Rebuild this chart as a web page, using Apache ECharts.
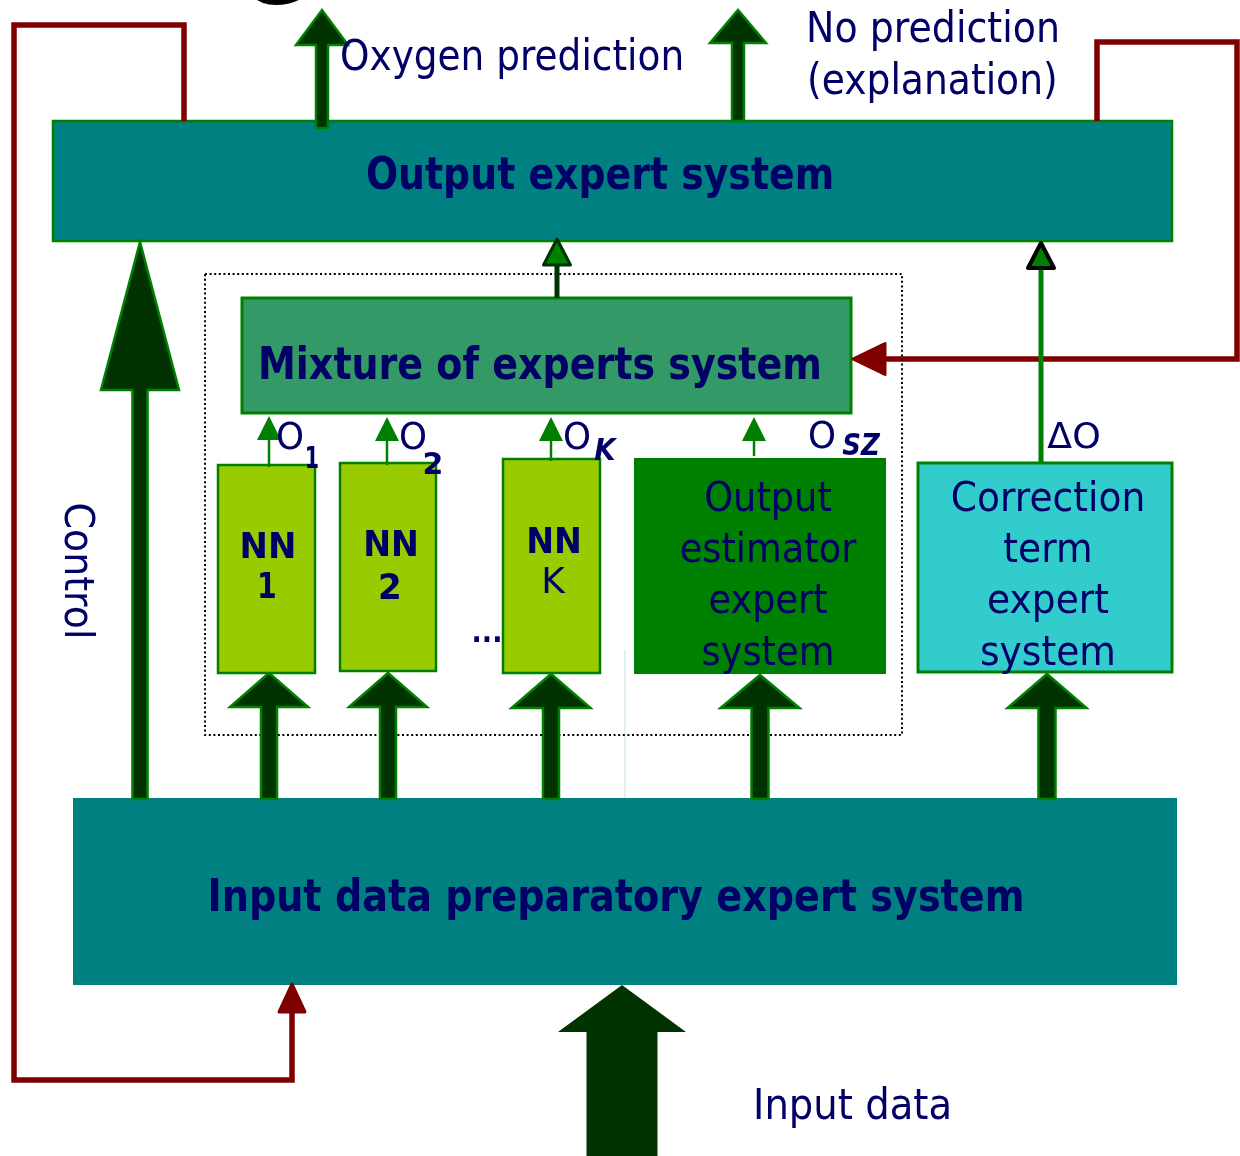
<!DOCTYPE html>
<html>
<head>
<meta charset="utf-8">
<script src="https://cdn.jsdelivr.net/npm/echarts@6/dist/echarts.min.js"></script>
<style>
html,body{margin:0;padding:0;background:#ffffff;}
#chart{width:1240px;height:1156px;}
</style>
</head>
<body>
<div id="chart"></div>
<script>
// ---------- Diagram data (diagram units: x 0..1240, y 0..1156 top-down) ----------
const boxNames   = ['Output expert system','Mixture of experts system','NN 1','NN 2','NN K',
                    'Output estimator expert system','Correction term expert system',
                    'Input data preparatory expert system'];
const boxLeft    = [53, 242, 218, 340, 503, 634, 918, 73];
const boxTop     = [121, 298, 465, 463, 459, 458, 463, 798];
const boxRight   = [1172, 851, 315, 436, 600, 886, 1172, 1177];
const boxBottom  = [241, 413, 673, 671, 673, 674, 672, 985];

const frameLeft = [205], frameTop = [274], frameRight = [902], frameBottom = [735];

const blockArrowNames = ['Oxygen prediction','No prediction','Control','to NN 1','to NN 2','to NN K',
                         'to Output estimator','to Correction term','Input data'];
const blockArrowX    = [322, 738, 140, 269, 388, 551, 760, 1047, 622];
const blockArrowFrom = [128, 121, 799, 799, 799, 799, 799, 799, 1156];
const blockArrowTo   = [10, 10, 242, 673, 673, 674, 675, 674, 985];

const thinArrowNames = ['O1','O2','OK','OSZ','Mixture to Output','Delta O'];
const thinArrowX     = [269, 387, 551, 754, 557, 1041];
const thinArrowFrom  = [467, 465, 461, 456, 298, 463];
const thinArrowTo    = [416, 417, 417, 417, 239, 243];

const feedbackNames = ['Control loop','Explanation loop'];
const feedbackLeftPath  = [[184,121],[184,25],[14,25],[14,1080],[292,1080],[292,984]];
const feedbackRightPath = [[1097,121],[1097,42],[1237,42],[1237,359],[853,359]];
const feedbackPaths = [feedbackLeftPath, feedbackRightPath];

const faintLineX = [625], faintLineFrom = [650], faintLineTo = [798];

const labelTexts = ['Oxygen prediction','No prediction','(explanation)','Output expert system',
  'Mixture of experts system','NN','1','NN','2','NN','K',
  'Output\nestimator\nexpert\nsystem','Correction\nterm\nexpert\nsystem',
  'Input data preparatory expert system','Input data','Control',
  'O','1','O','2','O','K','O','SZ','\u0394O','...','G'];
const labelX = [340, 806, 807, 600, 258, 268, 267, 391, 390, 554, 553, 768, 1048, 616, 753, 76,
                290, 312, 413, 433, 577, 605, 822, 861, 1074, 487, 273];
const labelY = [59, 31, 83, 178, 368, 549, 589, 547, 590, 544, 584, 577, 577, 900, 1108, 571,
                439, 460, 439, 466, 439, 452, 438, 447, 439, 634, -17];

// ---------- Styles ----------
const NAVY = '#000066';
const boxFill   = ['#008080','#339966','#99CC00','#99CC00','#99CC00','#008000','#33CCCC','#008080'];
const boxStroke = ['#008000','#008000','#008000','#008000','#008000','#008000','#008000','#008080'];
const boxLineW  = [2.5, 3, 2.5, 2.5, 2.5, 0, 3, 0];

const blockShaft  = [12, 12, 15, 16, 16, 16, 17, 17, 71];
const blockHeadW  = [52, 56, 78, 78, 78, 79, 79, 79, 128];
const blockHeadL  = [35, 33, 148, 34, 34, 34, 33, 34, 47];
const blockStroke = ['#008000','#008000','#008000','#008000','#008000','#008000','#008000','#008000', null];

const thinLineW      = [2.5, 2.5, 2.5, 2.5, 5, 5];
const thinLineColor  = ['#008000','#008000','#008000','#008000','#003300','#008000'];
const thinHeadW      = [24, 24, 24, 24, 27, 26];
const thinHeadL      = [24, 24, 24, 24, 26, 25];
const thinHeadStroke = [null, null, null, null, '#003300', '#000000'];
const thinHeadStrokeW= [0, 0, 0, 0, 3, 4];

const feedbackHeadL = [28, 32];
const feedbackHeadW = [26, 31];

const labelSize   = [42,42,42,44,44,36,36,36,36,36,36,41,41,44,42,41,37,30,37,30,37,31,37,31,36,30,80];
const labelWeight = ['normal','normal','normal','bold','bold','bold','bold','bold','bold','bold','normal',
                     'normal','normal','bold','normal','normal','normal','bold','normal','bold','normal','bold',
                     'normal','bold','normal','bold','bold'];
const labelItalic = labelTexts.map((t,i)=> i===21 || i===23);
const labelAlign  = labelTexts.map((t,i)=> (i===0||i===1||i===2||i===4||i===14) ? 'left' : 'center');
const labelInk    = [340,248,245,464,558,51,15,50,19,50,22,175,190,811,192,132,
                     25,11,25,17,25,23,25,38,52,26,null];
const labelColor  = labelTexts.map((t,i)=> i===26 ? '#000000' : NAVY);
const labelRotate = labelTexts.map((t,i)=> i===15 ? -Math.PI/2 : 0);
const labelLineH  = 51.3;
const FONT = '"DejaVu Sans"';

// ---------- helpers ----------
const mctx = document.createElement('canvas').getContext('2d');
function fontStr(i){
  return (labelItalic[i] ? 'italic ' : '') + labelWeight[i] + ' ' + labelSize[i] + 'px ' + FONT;
}
function labelScale(i){
  if (!labelInk[i]) return 1;
  mctx.font = fontStr(i);
  let w = 0;
  labelTexts[i].split('\n').forEach(l => {
    const m = mctx.measureText(l);
    const ink = (m.actualBoundingBoxLeft || 0) + (m.actualBoundingBoxRight || m.width);
    w = Math.max(w, ink);
  });
  return labelInk[i] / w;
}

function polyArrow(api, pts, headL, headW){
  const T = pts[pts.length-1], P = pts[pts.length-2];
  const dx = T[0]-P[0], dy = T[1]-P[1], len = Math.hypot(dx,dy);
  const ux = dx/len, uy = dy/len, nx = -uy, ny = ux;
  const B = [T[0]-ux*headL, T[1]-uy*headL];
  const line = pts.slice(0, -1).concat([B]).map(p => api.coord(p));
  const head = [T, [B[0]+nx*headW/2, B[1]+ny*headW/2], [B[0]-nx*headW/2, B[1]-ny*headW/2]].map(p => api.coord(p));
  return {line, head};
}

const chart = echarts.init(document.getElementById('chart'), null, {renderer:'canvas'});

const option = {
  animation: false,
  backgroundColor: '#ffffff',
  grid: {left:0, right:0, top:0, bottom:0},
  xAxis: {type:'value', min:0, max:1240, show:false},
  yAxis: {type:'value', min:0, max:1156, inverse:true, show:false},
  series: [
    {
      type:'custom', name:'boxes', coordinateSystem:'cartesian2d', clip:false, z:1,
      data: boxNames.map((n,i)=>[boxLeft[i], boxTop[i], boxRight[i], boxBottom[i]]),
      renderItem(params, api){
        const i = params.dataIndex;
        const a = api.coord([api.value(0), api.value(1)]);
        const b = api.coord([api.value(2), api.value(3)]);
        return {type:'rect',
          shape:{x:Math.min(a[0],b[0]), y:Math.min(a[1],b[1]), width:Math.abs(b[0]-a[0]), height:Math.abs(b[1]-a[1])},
          style:{fill:boxFill[i], stroke:boxLineW[i] ? boxStroke[i] : null, lineWidth:boxLineW[i]}};
      }
    },
    {
      type:'custom', name:'faint', coordinateSystem:'cartesian2d', clip:false, z:2,
      data: faintLineX.map((x,i)=>[x, faintLineFrom[i], faintLineTo[i]]),
      renderItem(params, api){
        const a = api.coord([api.value(0), api.value(1)]);
        const b = api.coord([api.value(0), api.value(2)]);
        return {type:'line', shape:{x1:a[0],y1:a[1],x2:b[0],y2:b[1]}, style:{stroke:'#d6eaea', lineWidth:1.5}};
      }
    },
    {
      type:'custom', name:'feedback', coordinateSystem:'cartesian2d', clip:false, z:3,
      data: feedbackNames.map((n,i)=>[feedbackPaths[i][0][0], feedbackPaths[i][0][1], i]),
      renderItem(params, api){
        const i = api.value(2);
        const r = polyArrow(api, feedbackPaths[i], feedbackHeadL[i], feedbackHeadW[i]);
        return {type:'group', children:[
          {type:'polyline', shape:{points:r.line}, style:{stroke:'#800000', lineWidth:5.5, fill:null, lineJoin:'miter'}},
          {type:'polygon', shape:{points:r.head}, style:{fill:'#800000', stroke:'#800000', lineWidth:3, lineJoin:'round'}}
        ]};
      }
    },
    {
      type:'custom', name:'frame', coordinateSystem:'cartesian2d', clip:false, z:4,
      data: frameLeft.map((x,i)=>[x, frameTop[i], frameRight[i], frameBottom[i]]),
      renderItem(params, api){
        const a = api.coord([api.value(0), api.value(1)]);
        const b = api.coord([api.value(2), api.value(3)]);
        return {type:'rect', shape:{x:a[0], y:a[1], width:b[0]-a[0], height:b[1]-a[1]},
          style:{fill:null, stroke:'#000000', lineWidth:2, lineDash:[2,2.6]}};
      }
    },
    {
      type:'custom', name:'blockArrows', coordinateSystem:'cartesian2d', clip:false, z:5,
      data: blockArrowNames.map((n,i)=>[blockArrowX[i], blockArrowFrom[i], blockArrowTo[i]]),
      renderItem(params, api){
        const i = params.dataIndex;
        const x = api.value(0), y0 = api.value(1), y1 = api.value(2);
        const dir = y1 < y0 ? -1 : 1;
        const s = blockShaft[i]/2, hw = blockHeadW[i]/2, neck = y1 - dir*blockHeadL[i];
        const pts = [[x-s,y0],[x-s,neck],[x-hw,neck],[x,y1],[x+hw,neck],[x+s,neck],[x+s,y0]].map(p=>api.coord(p));
        return {type:'polygon', shape:{points:pts},
          style:{fill:'#003300', stroke:blockStroke[i], lineWidth:blockStroke[i] ? 2.5 : 0, lineJoin:'miter'}};
      }
    },
    {
      type:'custom', name:'thinArrows', coordinateSystem:'cartesian2d', clip:false, z:6,
      data: thinArrowNames.map((n,i)=>[thinArrowX[i], thinArrowFrom[i], thinArrowTo[i]]),
      renderItem(params, api){
        const i = params.dataIndex;
        const x = api.value(0);
        const r = polyArrow(api, [[x, api.value(1)], [x, api.value(2)]], thinHeadL[i], thinHeadW[i]);
        return {type:'group', children:[
          {type:'polyline', shape:{points:r.line}, style:{stroke:thinLineColor[i], lineWidth:thinLineW[i], fill:null}},
          {type:'polygon', shape:{points:r.head}, style:{fill:'#008000', stroke:thinHeadStroke[i], lineWidth:thinHeadStrokeW[i], lineJoin:'round'}}
        ]};
      }
    },
    {
      type:'custom', name:'labels', coordinateSystem:'cartesian2d', clip:false, z:10,
      data: labelTexts.map((t,i)=>[labelX[i], labelY[i]]),
      renderItem(params, api){
        const i = params.dataIndex;
        const p = api.coord([api.value(0), api.value(1)]);
        return {type:'text', x:p[0], y:p[1], rotation:labelRotate[i], scaleX:labelScale(i), scaleY:1,
          style:{text:labelTexts[i], x:0, y:0, fill:labelColor[i], fontFamily:FONT.replace(/"/g,''),
            fontSize:labelSize[i], fontWeight:labelWeight[i], fontStyle:labelItalic[i] ? 'italic' : 'normal',
            align:labelAlign[i], verticalAlign:'middle', lineHeight:labelLineH}};
      }
    }
  ]
};
chart.setOption(option);
</script>
</body>
</html>
